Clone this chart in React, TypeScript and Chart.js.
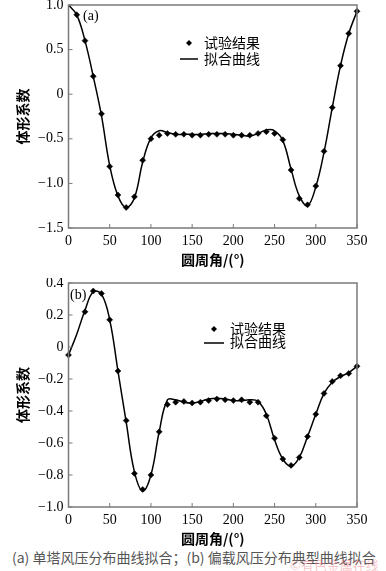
import { useEffect, useRef } from 'react';
import { Chart, registerables } from 'chart.js';

Chart.register(...registerables);

// ---- Chart (a) ----
const testAnglesA = [10, 20, 30, 40, 50, 60, 70, 80, 90, 100, 110, 120, 130, 140, 150, 160, 170, 180, 190, 200, 210, 220, 230, 240, 250, 260, 270, 280, 290, 300, 310, 320, 330, 340, 350];
const testValuesA = [0.89, 0.6, 0.2, -0.22, -0.81, -1.13, -1.27, -1.15, -0.74, -0.5, -0.46, -0.44, -0.45, -0.45, -0.46, -0.46, -0.45, -0.45, -0.45, -0.46, -0.46, -0.46, -0.44, -0.42, -0.44, -0.51, -0.85, -1.17, -1.24, -1.03, -0.64, -0.15, 0.32, 0.68, 0.93];
const fitAnglesA = [0, 10, 20, 30, 40, 50, 60, 70, 80, 90, 100, 110, 120, 130, 140, 150, 160, 170, 180, 190, 200, 210, 220, 230, 240, 250, 260, 270, 280, 290, 300, 310, 320, 330, 340, 350];
const fitValuesA = [1.0, 0.89, 0.6, 0.2, -0.24, -0.8, -1.14, -1.27, -1.16, -0.76, -0.49, -0.41, -0.43, -0.45, -0.45, -0.45, -0.45, -0.44, -0.44, -0.44, -0.45, -0.46, -0.47, -0.44, -0.4, -0.41, -0.52, -0.84, -1.14, -1.25, -1.04, -0.65, -0.15, 0.32, 0.68, 0.93];
const yTicksA = ['1.0', '0.5', '0', '−0.5', '−1.0', '−1.5'];
const yTickValuesA = [1.0, 0.5, 0, -0.5, -1.0, -1.5];

// ---- Chart (b) ----
const testAnglesB = [0, 20, 30, 40, 50, 60, 70, 80, 90, 100, 110, 120, 130, 140, 150, 160, 170, 180, 190, 200, 210, 220, 230, 240, 250, 260, 270, 280, 290, 300, 310, 320, 330, 340, 350];
const testValuesB = [-0.05, 0.22, 0.35, 0.335, 0.17, -0.15, -0.46, -0.79, -0.89, -0.8, -0.53, -0.36, -0.345, -0.34, -0.35, -0.345, -0.335, -0.325, -0.33, -0.335, -0.33, -0.345, -0.345, -0.43, -0.57, -0.7, -0.74, -0.69, -0.56, -0.42, -0.29, -0.215, -0.18, -0.165, -0.12];
const fitAnglesB = [0, 10, 20, 30, 40, 50, 60, 70, 80, 90, 100, 110, 120, 130, 140, 150, 160, 170, 180, 190, 200, 210, 220, 230, 240, 250, 260, 270, 280, 290, 300, 310, 320, 330, 340, 350];
const fitValuesB = [-0.05, 0.08, 0.23, 0.345, 0.33, 0.17, -0.15, -0.47, -0.78, -0.9, -0.8, -0.53, -0.33, -0.33, -0.345, -0.35, -0.34, -0.325, -0.32, -0.325, -0.335, -0.335, -0.33, -0.34, -0.42, -0.58, -0.7, -0.745, -0.69, -0.56, -0.42, -0.29, -0.22, -0.185, -0.16, -0.12];
const yTicksB = ['0.4', '0.2', '0', '−0.2', '−0.4', '−0.6', '−0.8', '−1.0'];
const yTickValuesB = [0.4, 0.2, 0, -0.2, -0.4, -0.6, -0.8, -1.0];

const xTickLabels = ['0', '50', '100', '150', '200', '250', '300', '350'];
const xTickValues = [0, 50, 100, 150, 200, 250, 300, 350];

const legendLabels = ['试验结果', '拟合曲线'];
const xTitle = '圆周角/(°)';
const yTitle = '体形系数';

const SERIF = '"Liberation Serif", "Times New Roman", serif';
const CJK = '"Noto Sans CJK SC", "Noto Sans", sans-serif';

type Cfg = {
  panel: string;
  panelPos: [number, number];
  legend: { markerX: number; markerY: number; lineX1: number; lineX2: number; lineY: number; textX: number; text1Y: number; text2Y: number };
};

function makePlugin(cfg: Cfg) {
  return {
    id: 'decor',
    afterDraw(chart: any) {
      const { ctx, chartArea: a } = chart;
      const xs = chart.scales.x;
      const ys = chart.scales.y;
      ctx.save();
      ctx.strokeStyle = '#7a7a7a';
      ctx.lineWidth = 1.5;
      ctx.strokeRect(a.left, a.top, a.right - a.left, a.bottom - a.top);
      ctx.lineWidth = 1;
      ctx.beginPath();
      xs.ticks.forEach((t: any) => {
        const px = xs.getPixelForValue(t.value);
        ctx.moveTo(px, a.bottom);
        ctx.lineTo(px, a.bottom - 4);
      });
      ys.ticks.forEach((t: any) => {
        const py = ys.getPixelForValue(t.value);
        ctx.moveTo(a.left, py);
        ctx.lineTo(a.left + 4, py);
      });
      ctx.stroke();
      ctx.fillStyle = '#000';
      ctx.font = '14px ' + SERIF;
      ctx.textAlign = 'left';
      ctx.textBaseline = 'middle';
      ctx.fillText(cfg.panel, cfg.panelPos[0], cfg.panelPos[1]);
      const L = cfg.legend;
      ctx.beginPath();
      const r = 3;
      ctx.moveTo(L.markerX, L.markerY - r);
      ctx.lineTo(L.markerX + r, L.markerY);
      ctx.lineTo(L.markerX, L.markerY + r);
      ctx.lineTo(L.markerX - r, L.markerY);
      ctx.closePath();
      ctx.fill();
      ctx.strokeStyle = '#000';
      ctx.lineWidth = 1.5;
      ctx.beginPath();
      ctx.moveTo(L.lineX1, L.lineY);
      ctx.lineTo(L.lineX2, L.lineY);
      ctx.stroke();
      ctx.font = '14px ' + CJK;
      ctx.fillText(legendLabels[0], L.textX, L.text1Y);
      ctx.fillText(legendLabels[1], L.textX, L.text2Y);
      ctx.restore();
    },
  };
}

function buildConfig(
  testX: number[], testY: number[], fitX: number[], fitY: number[],
  yMin: number, yMax: number, yLabels: string[], yVals: number[], padTop: number, cfg: Cfg
): any {
  return {
    type: 'scatter',
    data: {
      datasets: [
        {
          label: legendLabels[1],
          data: fitX.map((x, i) => ({ x, y: fitY[i] })),
          showLine: true,
          borderColor: '#000',
          borderWidth: 1.5,
          pointRadius: 0,
          tension: 0.4,
          fill: false,
        },
        {
          label: legendLabels[0],
          data: testX.map((x, i) => ({ x, y: testY[i] })),
          showLine: false,
          pointStyle: 'rectRot',
          pointRadius: 3,
          backgroundColor: '#000',
          borderColor: '#000',
          borderWidth: 0.5,
          clip: false,
        },
      ],
    },
    options: {
      animation: false,
      responsive: false,
      maintainAspectRatio: false,
      layout: { padding: { left: 0, top: padTop, right: 29, bottom: 0 } },
      plugins: { legend: { display: false }, tooltip: { enabled: false } },
      scales: {
        x: {
          type: 'linear',
          min: 0,
          max: 350,
          afterFit: (s: any) => { s.height = 40; s.paddingLeft = 0; s.paddingRight = 0; },
          afterBuildTicks: (s: any) => { s.ticks = xTickValues.map((v) => ({ value: v })); },
          grid: { display: false, drawTicks: false },
          border: { display: false },
          ticks: {
            padding: 5,
            color: '#000',
            font: { family: SERIF, size: 14 },
            maxRotation: 0,
            callback: (v: number) => { const i = xTickValues.indexOf(v); return i >= 0 ? xTickLabels[i] : ''; },
          },
          title: {
            display: true,
            text: xTitle,
            color: '#000',
            font: { family: CJK, size: 14, weight: 'bold' },
            padding: { top: 1.5, bottom: 0 },
          },
        },
        y: {
          type: 'linear',
          min: yMin,
          max: yMax,
          afterFit: (s: any) => { s.width = 68.5; s.paddingTop = 0; s.paddingBottom = 0; },
          afterBuildTicks: (s: any) => { s.ticks = yVals.map((v) => ({ value: v })); },
          grid: { display: false, drawTicks: false },
          border: { display: false },
          ticks: {
            padding: 5,
            color: '#000',
            font: { family: SERIF, size: 14 },
            callback: (v: number) => {
              const i = yVals.findIndex((t) => Math.abs(t - v) < 1e-6);
              return i >= 0 ? yLabels[i] : '';
            },
          },
          title: {
            display: true,
            text: yTitle,
            color: '#000',
            font: { family: CJK, size: 14, weight: 'bold' },
            padding: { top: 14, bottom: 0 },
          },
        },
      },
    },
    plugins: [makePlugin(cfg)],
  };
}

export default function App() {
  const refA = useRef<HTMLCanvasElement>(null);
  const refB = useRef<HTMLCanvasElement>(null);

  useEffect(() => {
    let cA: Chart | null = null;
    let cB: Chart | null = null;
    let cancelled = false;
    const build = () => {
      if (cancelled) return;
      cA = new Chart(
        refA.current as HTMLCanvasElement,
        buildConfig(testAnglesA, testValuesA, fitAnglesA, fitValuesA, -1.5, 1.0, yTicksA, yTickValuesA, 5, {
          panel: '(a)',
          panelPos: [83, 16],
          legend: { markerX: 189, markerY: 43, lineX1: 180, lineX2: 198, lineY: 59, textX: 204, text1Y: 43, text2Y: 59 },
        })
      );
      cB = new Chart(
        refB.current as HTMLCanvasElement,
        buildConfig(testAnglesB, testValuesB, fitAnglesB, fitValuesB, -1.0, 0.4, yTicksB, yTickValuesB, 5, {
          panel: '(b)',
          panelPos: [70, 17],
          legend: { markerX: 214, markerY: 51, lineX1: 204, lineX2: 224, lineY: 65, textX: 230, text1Y: 51, text2Y: 64 },
        })
      );
    };
    const fonts: any = (document as any).fonts;
    if (fonts && fonts.load) {
      Promise.all([
        fonts.load('14px "Liberation Serif"'),
        fonts.load('14px "Noto Sans CJK SC"', '试验结果'),
        fonts.load('bold 14px "Noto Sans CJK SC"', '圆周角'),
      ]).then(build, build);
    } else {
      build();
    }
    return () => {
      cancelled = true;
      if (cA) cA.destroy();
      if (cB) cB.destroy();
    };
  }, []);

  return (
    <div style={{ position: 'absolute', left: 0, top: 0, width: 386, height: 571, background: '#fff', overflow: 'hidden' }}>
      <canvas ref={refA} width={386} height={268} style={{ position: 'absolute', left: 0, top: 0, width: 386, height: 268 }} />
      <canvas ref={refB} width={386} height={269} style={{ position: 'absolute', left: 0, top: 278, width: 386, height: 269 }} />
      <div
        style={{
          position: 'absolute',
          left: 12,
          top: 548,
          fontFamily: CJK,
          fontSize: 14,
          lineHeight: '18px',
          color: '#555',
          whiteSpace: 'nowrap',
        }}
      >
        (a) 单塔风压分布曲线拟合；(b) 偏载风压分布典型曲线拟合
      </div>
      <div
        style={{
          position: 'absolute',
          left: 290,
          top: 557,
          fontFamily: CJK,
          fontSize: 13,
          lineHeight: '16px',
          color: 'rgba(235,120,130,0.45)',
          whiteSpace: 'nowrap',
        }}
      >
        ©有色金属在线
      </div>
    </div>
  );
}
